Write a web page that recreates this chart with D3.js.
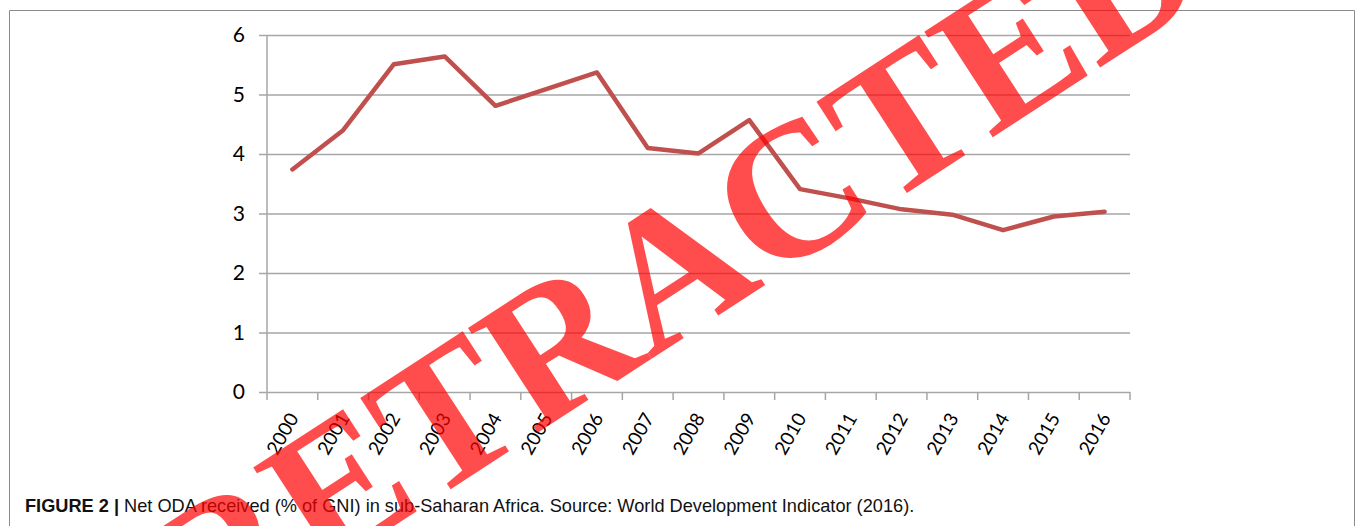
<!DOCTYPE html>
<html>
<head>
<meta charset="utf-8">
<script src="https://cdn.jsdelivr.net/npm/d3@7"></script>
<style>
  html, body { margin: 0; padding: 0; background: #fff; }
  svg { display: block; }
  .tick text { fill: #000; }
</style>
</head>
<body>
<div id="chart"></div>
<script>
'use strict';

// data
var years = [ '2000', '2001', '2002', '2003', '2004', '2005', '2006', '2007', '2008',
              '2009', '2010', '2011', '2012', '2013', '2014', '2015', '2016' ];
var odaValues = [ 3.74, 4.40, 5.51, 5.64, 4.81, 5.09, 5.37, 4.10, 4.01,
                  4.57, 3.41, 3.25, 3.07, 2.98, 2.72, 2.95, 3.03 ];
var yTicks = [ 0, 1, 2, 3, 4, 5, 6 ];
var captionBold = 'FIGURE 2 | ';
var captionText = 'Net ODA received (% of GNI) in sub-Saharan Africa. Source: World Development Indicator (2016).';
var watermark = 'RETRACTED';

var W = 1357, H = 526;
var plot = { left: 267, right: 1130, top: 35, bottom: 392 };

var svg = d3.select( '#chart' )
  .append( 'svg' )
    .attr( 'width', W )
    .attr( 'height', H );

// outer frame
svg.append( 'path' )
  .attr( 'd', 'M9.5,' + H + 'V10.5H1354.5V' + H )
  .attr( 'fill', 'none' )
  .attr( 'stroke', '#8c8c8c' )
  .attr( 'stroke-width', 1 );

var x = d3.scaleBand()
  .domain( years )
  .range( [ plot.left, plot.right ] );

var y = d3.scaleLinear()
  .domain( [ 0, 6 ] )
  .range( [ plot.bottom, plot.top ] );

// Y axis with gridlines
var yAxis = svg.append( 'g' )
  .attr( 'transform', 'translate(' + plot.left + ',0)' )
  .call( d3.axisLeft( y )
    .tickValues( yTicks )
    .tickFormat( d3.format( 'd' ) )
    .tickSize( 0 )
    .tickPadding( 22 ) );
yAxis.select( '.domain' ).remove();
yAxis.selectAll( '.tick line' )
  .attr( 'x1', -8 )
  .attr( 'x2', plot.right - plot.left )
  .attr( 'stroke', '#a6a6a6' )
  .attr( 'stroke-width', 1.5 );
yAxis.selectAll( 'text' )
  .style( 'font-family', 'Lato, "Open Sans", sans-serif' )
  .style( 'font-size', '21px' );

// vertical axis line
svg.append( 'line' )
  .attr( 'x1', plot.left ).attr( 'x2', plot.left )
  .attr( 'y1', plot.top ).attr( 'y2', plot.bottom )
  .attr( 'stroke', '#a6a6a6' )
  .attr( 'stroke-width', 1.5 );

// X axis: ticks sit between the categories
var bounds = years.map( function( d ) { return x( d ); } ).concat( [ plot.right ] );
svg.append( 'g' )
  .selectAll( 'line' )
  .data( bounds )
  .enter().append( 'line' )
    .attr( 'x1', function( d ) { return d; } )
    .attr( 'x2', function( d ) { return d; } )
    .attr( 'y1', plot.bottom )
    .attr( 'y2', plot.bottom + 8 )
    .attr( 'stroke', '#a6a6a6' )
    .attr( 'stroke-width', 1.5 );

var xAxis = svg.append( 'g' )
  .attr( 'transform', 'translate(0,' + plot.bottom + ')' )
  .call( d3.axisBottom( x ).tickSize( 0 ) );
xAxis.select( '.domain' ).remove();
xAxis.selectAll( 'text' )
  .attr( 'text-anchor', 'end' )
  .attr( 'dy', 0 )
  .attr( 'y', 0 )
  .attr( 'transform', 'translate(7,26) rotate(-60)' )
  .style( 'font-family', 'Lato, "Open Sans", sans-serif' )
  .style( 'font-size', '19px' );

// the series line
var line = d3.line()
  .x( function( d, i ) { return x( years[i] ) + x.bandwidth() / 2; } )
  .y( function( d ) { return y( d ); } );

svg.append( 'path' )
  .attr( 'd', line( odaValues ) )
  .attr( 'fill', 'none' )
  .attr( 'stroke', '#c0504d' )
  .attr( 'stroke-width', 4.5 )
  .attr( 'stroke-linejoin', 'round' )
  .attr( 'stroke-linecap', 'round' );

// caption
var cap = svg.append( 'text' )
  .attr( 'x', 25 )
  .attr( 'y', 512 )
  .style( 'font-family', '"Liberation Sans", Arial, sans-serif' )
  .style( 'font-size', '18.2px' )
  .attr( 'fill', '#111' );
cap.append( 'tspan' )
  .style( 'font-weight', 'bold' )
  .text( captionBold );
cap.append( 'tspan' )
  .text( captionText );

// watermark stamp over the figure
svg.append( 'text' )
  .attr( 'transform', 'translate(673,268) rotate(-33)' )
  .attr( 'text-anchor', 'middle' )
  .attr( 'dominant-baseline', 'central' )
  .style( 'font-family', '"Liberation Serif", "DejaVu Serif", serif' )
  .style( 'font-weight', 'bold' )
  .style( 'font-size', '192px' )
  .attr( 'fill', '#ff0000' )
  .attr( 'fill-opacity', 0.7 )
  .text( watermark );
</script>
</body>
</html>
